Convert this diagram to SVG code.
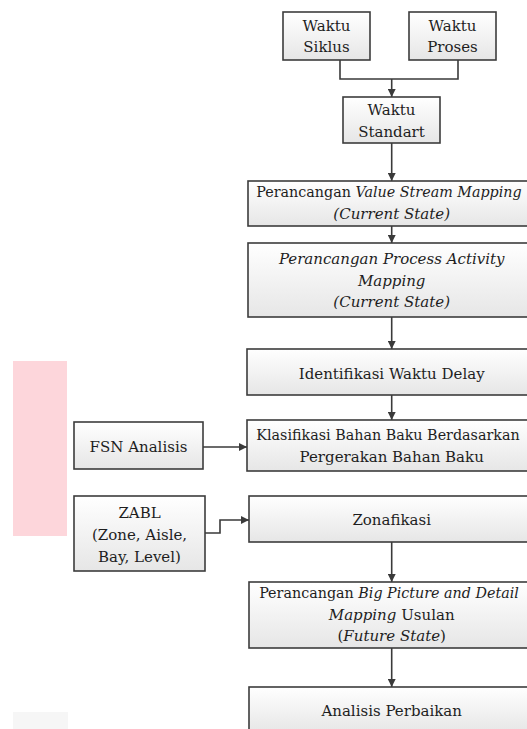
<svg xmlns="http://www.w3.org/2000/svg" width="527" height="729" viewBox="0 0 527 729">
<defs>
<linearGradient id="g" x1="0" y1="0" x2="0" y2="1">
<stop offset="0" stop-color="#ffffff"/>
<stop offset="1" stop-color="#e6e6e6"/>
</linearGradient>
<marker id="ah" viewBox="0 0 8 8" refX="8" refY="4" markerWidth="8" markerHeight="8" markerUnits="userSpaceOnUse" orient="auto">
<path d="M0,0 L8,4 L0,8 z" fill="#3a3a3a"/>
</marker>
<style>
.box{fill:url(#g);stroke:#3c3c3c;stroke-width:1.6}
.t{font-family:'DejaVu Serif',serif;font-size:15px;fill:#1e1e1e;text-anchor:middle}
.s{font-size:14.3px}
.i{font-style:italic}
.c{fill:none;stroke:#3a3a3a;stroke-width:1.6}
</style>
</defs>
<rect width="527" height="729" fill="#ffffff"/>
<rect x="13" y="361" width="54" height="175" fill="#fdd6db"/>
<rect x="13" y="712" width="55" height="17" fill="#f6f6f6"/>

<g id="connectors">
<path class="c" d="M340,60 V79 H458 V60"/>
<path class="c" d="M391.7,79 V97" marker-end="url(#ah)"/>
<path class="c" d="M391.7,143 V181" marker-end="url(#ah)"/>
<path class="c" d="M391.7,226 V243" marker-end="url(#ah)"/>
<path class="c" d="M391.7,317 V349" marker-end="url(#ah)"/>
<path class="c" d="M391.7,395 V420" marker-end="url(#ah)"/>
<path class="c" d="M203,447 H247" marker-end="url(#ah)"/>
<path class="c" d="M205,533 H220 V520 H249" marker-end="url(#ah)"/>
<path class="c" d="M391.7,542 V582" marker-end="url(#ah)"/>
<path class="c" d="M391.7,648 V687" marker-end="url(#ah)"/>
</g>

<g id="waktu-siklus">
<rect class="box" x="283" y="12" width="87" height="48"/>
<text class="t" x="326.5" y="31">Waktu</text>
<text class="t" x="326.5" y="52">Siklus</text>
</g>
<g id="waktu-proses">
<rect class="box" x="409" y="12" width="87" height="48"/>
<text class="t" x="452.5" y="31">Waktu</text>
<text class="t" x="452.5" y="52">Proses</text>
</g>
<g id="waktu-standart">
<rect class="box" x="343" y="97" width="97" height="46"/>
<text class="t" x="391.5" y="115">Waktu</text>
<text class="t" x="391.5" y="136.5">Standart</text>
</g>
<g id="vsm">
<rect class="box" x="248" y="181" width="290" height="45"/>
<text class="t s" x="389" y="197">Perancangan <tspan class="i">Value Stream Mapping</tspan></text>
<text class="t i" x="391.7" y="219">(Current State)</text>
</g>
<g id="pam">
<rect class="box" x="248" y="243" width="290" height="74"/>
<text class="t i" x="391.7" y="264">Perancangan Process Activity</text>
<text class="t i" x="391.7" y="286">Mapping</text>
<text class="t i" x="391.7" y="307">(Current State)</text>
</g>
<g id="identifikasi">
<rect class="box" x="247" y="349" width="291" height="46"/>
<text class="t" x="391.7" y="379">Identifikasi Waktu Delay</text>
</g>
<g id="fsn">
<rect class="box" x="74" y="422" width="129" height="47"/>
<text class="t" x="138.5" y="452">FSN Analisis</text>
</g>
<g id="klasifikasi">
<rect class="box" x="247" y="420" width="291" height="51"/>
<text class="t s" x="388" y="440">Klasifikasi Bahan Baku Berdasarkan</text>
<text class="t" x="391.7" y="462">Pergerakan Bahan Baku</text>
</g>
<g id="zabl">
<rect class="box" x="74" y="496" width="131" height="75"/>
<text class="t" x="139.5" y="518">ZABL</text>
<text class="t" x="139.5" y="540">(Zone, Aisle,</text>
<text class="t" x="139.5" y="562">Bay, Level)</text>
</g>
<g id="zonafikasi">
<rect class="box" x="249" y="496" width="289" height="46"/>
<text class="t" x="391.7" y="525">Zonafikasi</text>
</g>
<g id="big-picture">
<rect class="box" x="249" y="582" width="289" height="66"/>
<text class="t s" x="389" y="598">Perancangan <tspan class="i">Big Picture and Detail</tspan></text>
<text class="t" x="391.7" y="619.5"><tspan class="i">Mapping</tspan> Usulan</text>
<text class="t" x="391.7" y="641">(<tspan class="i">Future State</tspan>)</text>
</g>
<g id="analisis">
<rect class="box" x="249" y="687" width="289" height="46"/>
<text class="t" x="391.7" y="716">Analisis Perbaikan</text>
</g>
</svg>
